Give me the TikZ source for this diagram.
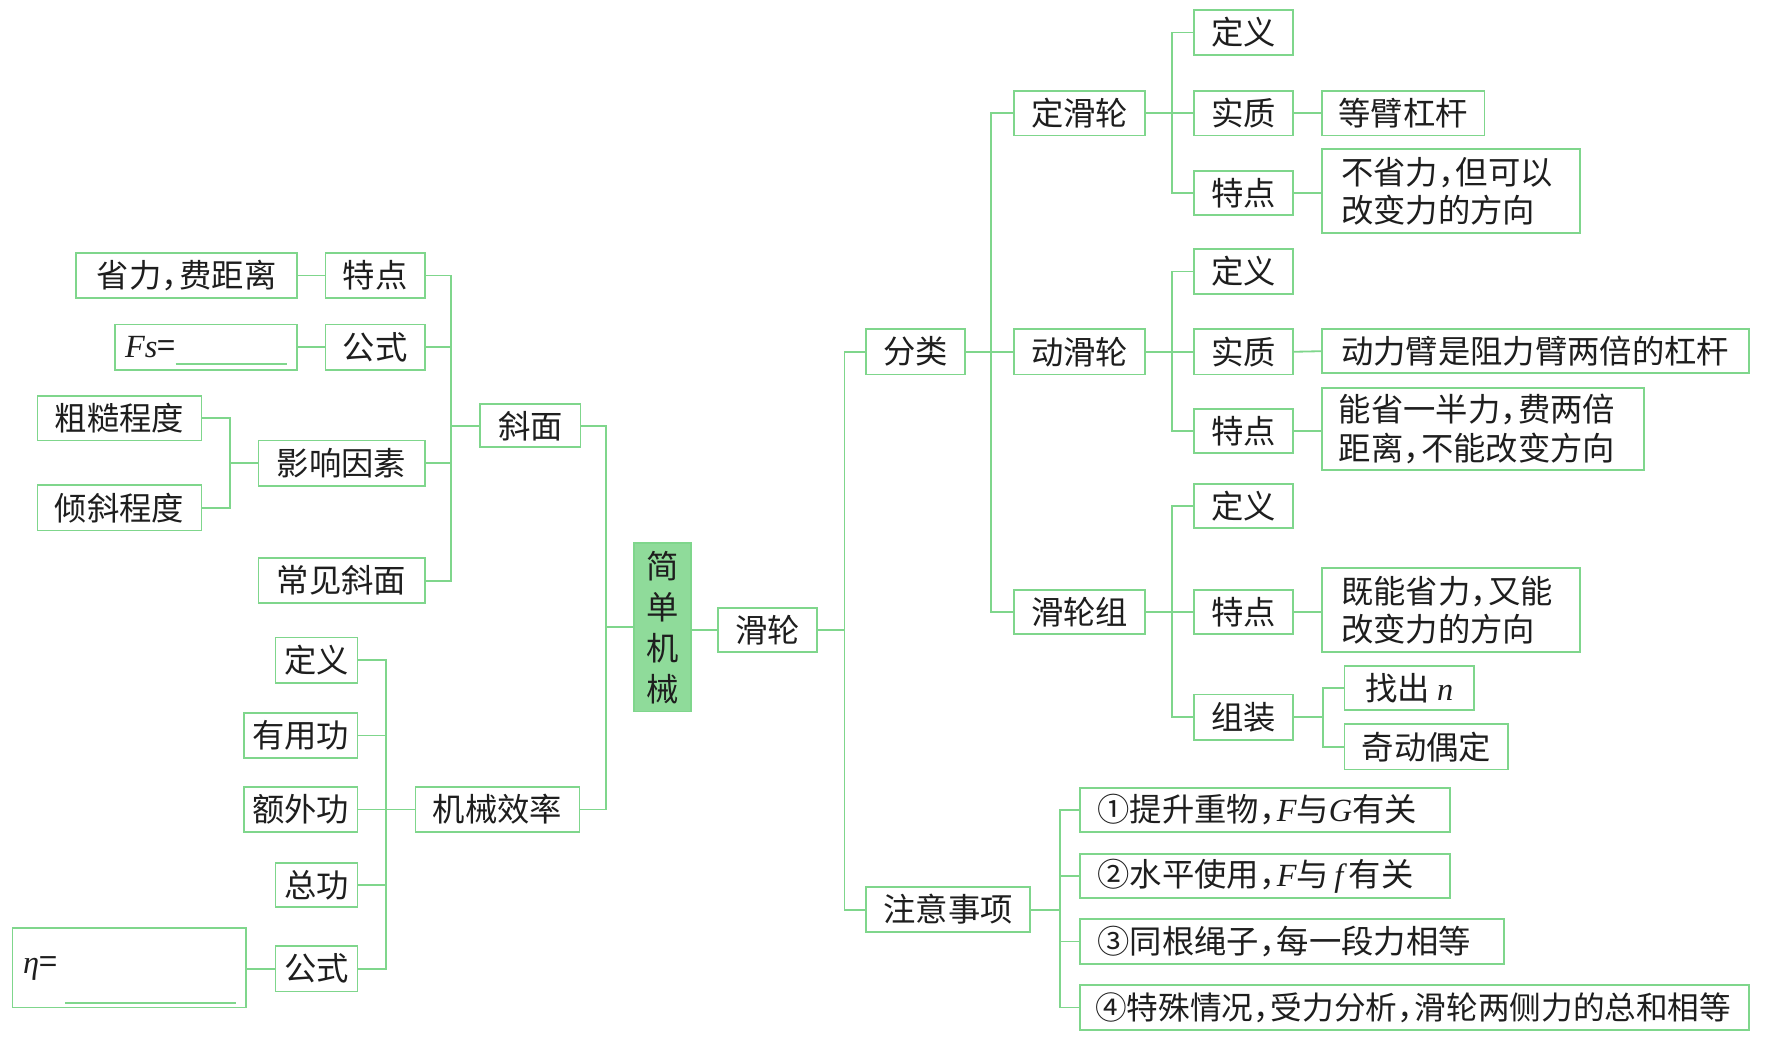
\documentclass[tikz,border=0pt]{standalone}
\usepackage{fontspec}
\setmainfont{Noto Sans CJK SC}
\newfontfamily\lser{Liberation Serif}
\newcommand\vi[1]{{\lser\itshape #1}}
\definecolor{lg}{HTML}{7FD68C}
\definecolor{lgfill}{HTML}{8FDB9A}
\definecolor{tx}{HTML}{1E1E1E}
\newcommand\cm{，\kern-0.45em}
\newcommand\bx[6]{\node[box, minimum width={(#4-#2)*0.5pt}, minimum height={(#5-#3)*0.5pt}] (#1) at ({(#2+#4)/2},{(#3+#5)/2}) {#6};}
\newcommand\lbx[7]{\node[box, align=left, inner xsep={#6*0.5pt}, text width={(#4-#2-2*#6)*0.5pt}, minimum height={(#5-#3)*0.5pt}] (#1) at ({(#2+#4)/2},{(#3+#5)/2}) {#7};}
\begin{document}
\begin{tikzpicture}[x=0.5pt,y=-0.5pt,
  box/.style={draw=lg, line width=0.8pt, fill=white, inner sep=0pt, text=tx,
    font=\fontsize{14.2}{17}\selectfont},
  cbox/.style={draw=lg, line width=0.8pt, fill=lgfill, inner sep=0pt, text=tx, align=center,
    font=\fontsize{14.2}{18}\selectfont},
  ln/.style={draw=lg, line width=0.8pt}]
\useasboundingbox (0,0) rectangle (1568,923);
% left: xiemian
\bx{sjl}{67}{222}{261}{262}{省力\cm 费距离}
\bx{td1}{286}{222}{373}{262}{特点}
\lbx{fs}{101}{285}{261}{325}{9}{\vi{Fs}=}
\bx{gs1}{286}{285}{373}{325}{公式}
\bx{cc}{33}{348}{177}{387}{粗糙程度}
\bx{yx}{227}{387}{373}{427}{影响因素}
\bx{qx}{33}{426}{177}{466}{倾斜程度}
\bx{cj}{227}{490}{373}{530}{常见斜面}
\bx{xm}{422}{355}{510}{393}{斜面}
% left: jixie xiaolv
\bx{jx}{365}{691}{509}{731}{机械效率}
\bx{dy0}{242}{560}{314}{600}{定义}
\bx{yy}{214}{626}{314}{666}{有用功}
\bx{ew}{214}{691}{314}{731}{额外功}
\bx{zg}{242}{758}{314}{797}{总功}
\bx{gs2}{242}{831}{314}{871}{公式}
\node[box, minimum width={205*0.5pt}, minimum height={70*0.5pt}] (eta) at (113.5,850) {};
\node[text=tx, anchor=west, inner sep=0pt, font=\fontsize{14.2}{17}\selectfont] (etat) at (20,851) {\vi{η}=};
\draw[ln] (fs.south west) ++(54,-6) -- ++(98,0);
\draw[ln] (eta.south west) ++(47,-5) -- ++(150,0);
% centre
\node[cbox, minimum width={50*0.5pt}, minimum height={148*0.5pt}] (jd) at (582,551) {简\\单\\机\\械};
\bx{hl}{631}{534}{718}{573}{滑轮}
\bx{fl}{761}{289}{848}{329}{分类}
\bx{zy}{761}{779}{905}{819}{注意事项}
% right
\bx{dhl}{891}{80}{1006}{119}{定滑轮}
\bx{dohl}{891}{289}{1006}{329}{动滑轮}
\bx{hlz}{891}{518}{1006}{557}{滑轮组}
\bx{a1}{1049}{9}{1136}{48}{定义}
\bx{a2}{1049}{80}{1136}{119}{实质}
\bx{a2r}{1161}{80}{1304}{119}{等臂杠杆}
\bx{a3}{1049}{150}{1136}{189}{特点}
\lbx{a3r}{1161}{131}{1388}{205}{17}{不省力\cm 但可以\\改变力的方向}
\bx{b1}{1049}{219}{1136}{258}{定义}
\bx{b2}{1049}{289}{1136}{329}{实质}
\bx{b2r}{1161}{289}{1536}{328}{动力臂是阻力臂两倍的杠杆}
\bx{b3}{1049}{359}{1136}{398}{特点}
\lbx{b3r}{1161}{341}{1444}{413}{15}{能省一半力\cm 费两倍\\距离\cm 不能改变方向}
\bx{c1}{1049}{425}{1136}{464}{定义}
\bx{c2}{1049}{518}{1136}{557}{特点}
\lbx{c2r}{1161}{499}{1388}{573}{17}{既能省力\cm 又能\\改变力的方向}
\bx{c3}{1049}{610}{1136}{650}{组装}
\bx{c3a}{1181}{585}{1295}{624}{找出 \vi{n}}
\bx{c3b}{1181}{636}{1325}{676}{奇动偶定}
\lbx{n1}{949}{692}{1274}{731}{15}{①提升重物\cm \vi{F}与\vi{G}有关}
\lbx{n2}{949}{750}{1274}{789}{15}{②水平使用\cm \vi{F}与\,\vi{f}\,有关}
\lbx{n3}{949}{807}{1321}{847}{15}{③同根绳子\cm 每一段力相等}
\lbx{n4}{949}{865}{1536}{905}{13}{\fontsize{13.9}{17}\selectfont ④特殊情况\cm 受力分析\cm 滑轮两侧力的总和相等}
% connectors
\draw[ln] (sjl.east) -- (td1.west);
\draw[ln] (fs.east) -- (gs1.west);
\draw[ln] (xm.west) -- ++(-25,0) coordinate (s1);
\foreach \n in {td1,gs1,yx,cj} \draw[ln] (\n.east) -| (s1);
\draw[ln] (yx.west) -- ++(-24,0) coordinate (s2);
\foreach \n in {cc,qx} \draw[ln] (\n.east) -| (s2);
\draw[ln] (jx.west) -- ++(-25,0) coordinate (s3);
\foreach \n in {dy0,yy,ew,zg,gs2} \draw[ln] (\n.east) -| (s3);
\draw[ln] (gs2.west) -- (gs2.west -| eta.east);
\draw[ln] (jd.west) -- ++(-24,0) coordinate (s0);
\foreach \n in {xm,jx} \draw[ln] (\n.east) -| (s0);
\draw[ln] (hl.west) -- (hl.west -| jd.east);
\draw[ln] (hl.east) -- ++(23,0) coordinate (s4);
\foreach \n in {fl,zy} \draw[ln] (\n.west) -| (s4);
\draw[ln] (fl.east) -- ++(22,0) coordinate (s5);
\foreach \n in {dhl,dohl,hlz} \draw[ln] (\n.west) -| (s5);
\draw[ln] (dhl.east) -- ++(23,0) coordinate (s6);
\foreach \n in {a1,a2,a3} \draw[ln] (\n.west) -| (s6);
\draw[ln] (a2.east) -- (a2r.west);
\draw[ln] (a3.east) -- (a3.east -| a3r.west);
\draw[ln] (dohl.east) -- ++(23,0) coordinate (s7);
\foreach \n in {b1,b2,b3} \draw[ln] (\n.west) -| (s7);
\draw[ln] (b2.east) -- (b2r.west);
\draw[ln] (b3.east) -- (b3.east -| b3r.west);
\draw[ln] (hlz.east) -- ++(23,0) coordinate (s8);
\foreach \n in {c1,c2,c3} \draw[ln] (\n.west) -| (s8);
\draw[ln] (c2.east) -- (c2.east -| c2r.west);
\draw[ln] (c3.east) -- ++(25,0) coordinate (s9);
\foreach \n in {c3a,c3b} \draw[ln] (\n.west) -| (s9);
\draw[ln] (zy.east) -- ++(25,0) coordinate (s10);
\foreach \n in {n1,n2,n3,n4} \draw[ln] (\n.west) -| (s10);
\end{tikzpicture}
\end{document}
